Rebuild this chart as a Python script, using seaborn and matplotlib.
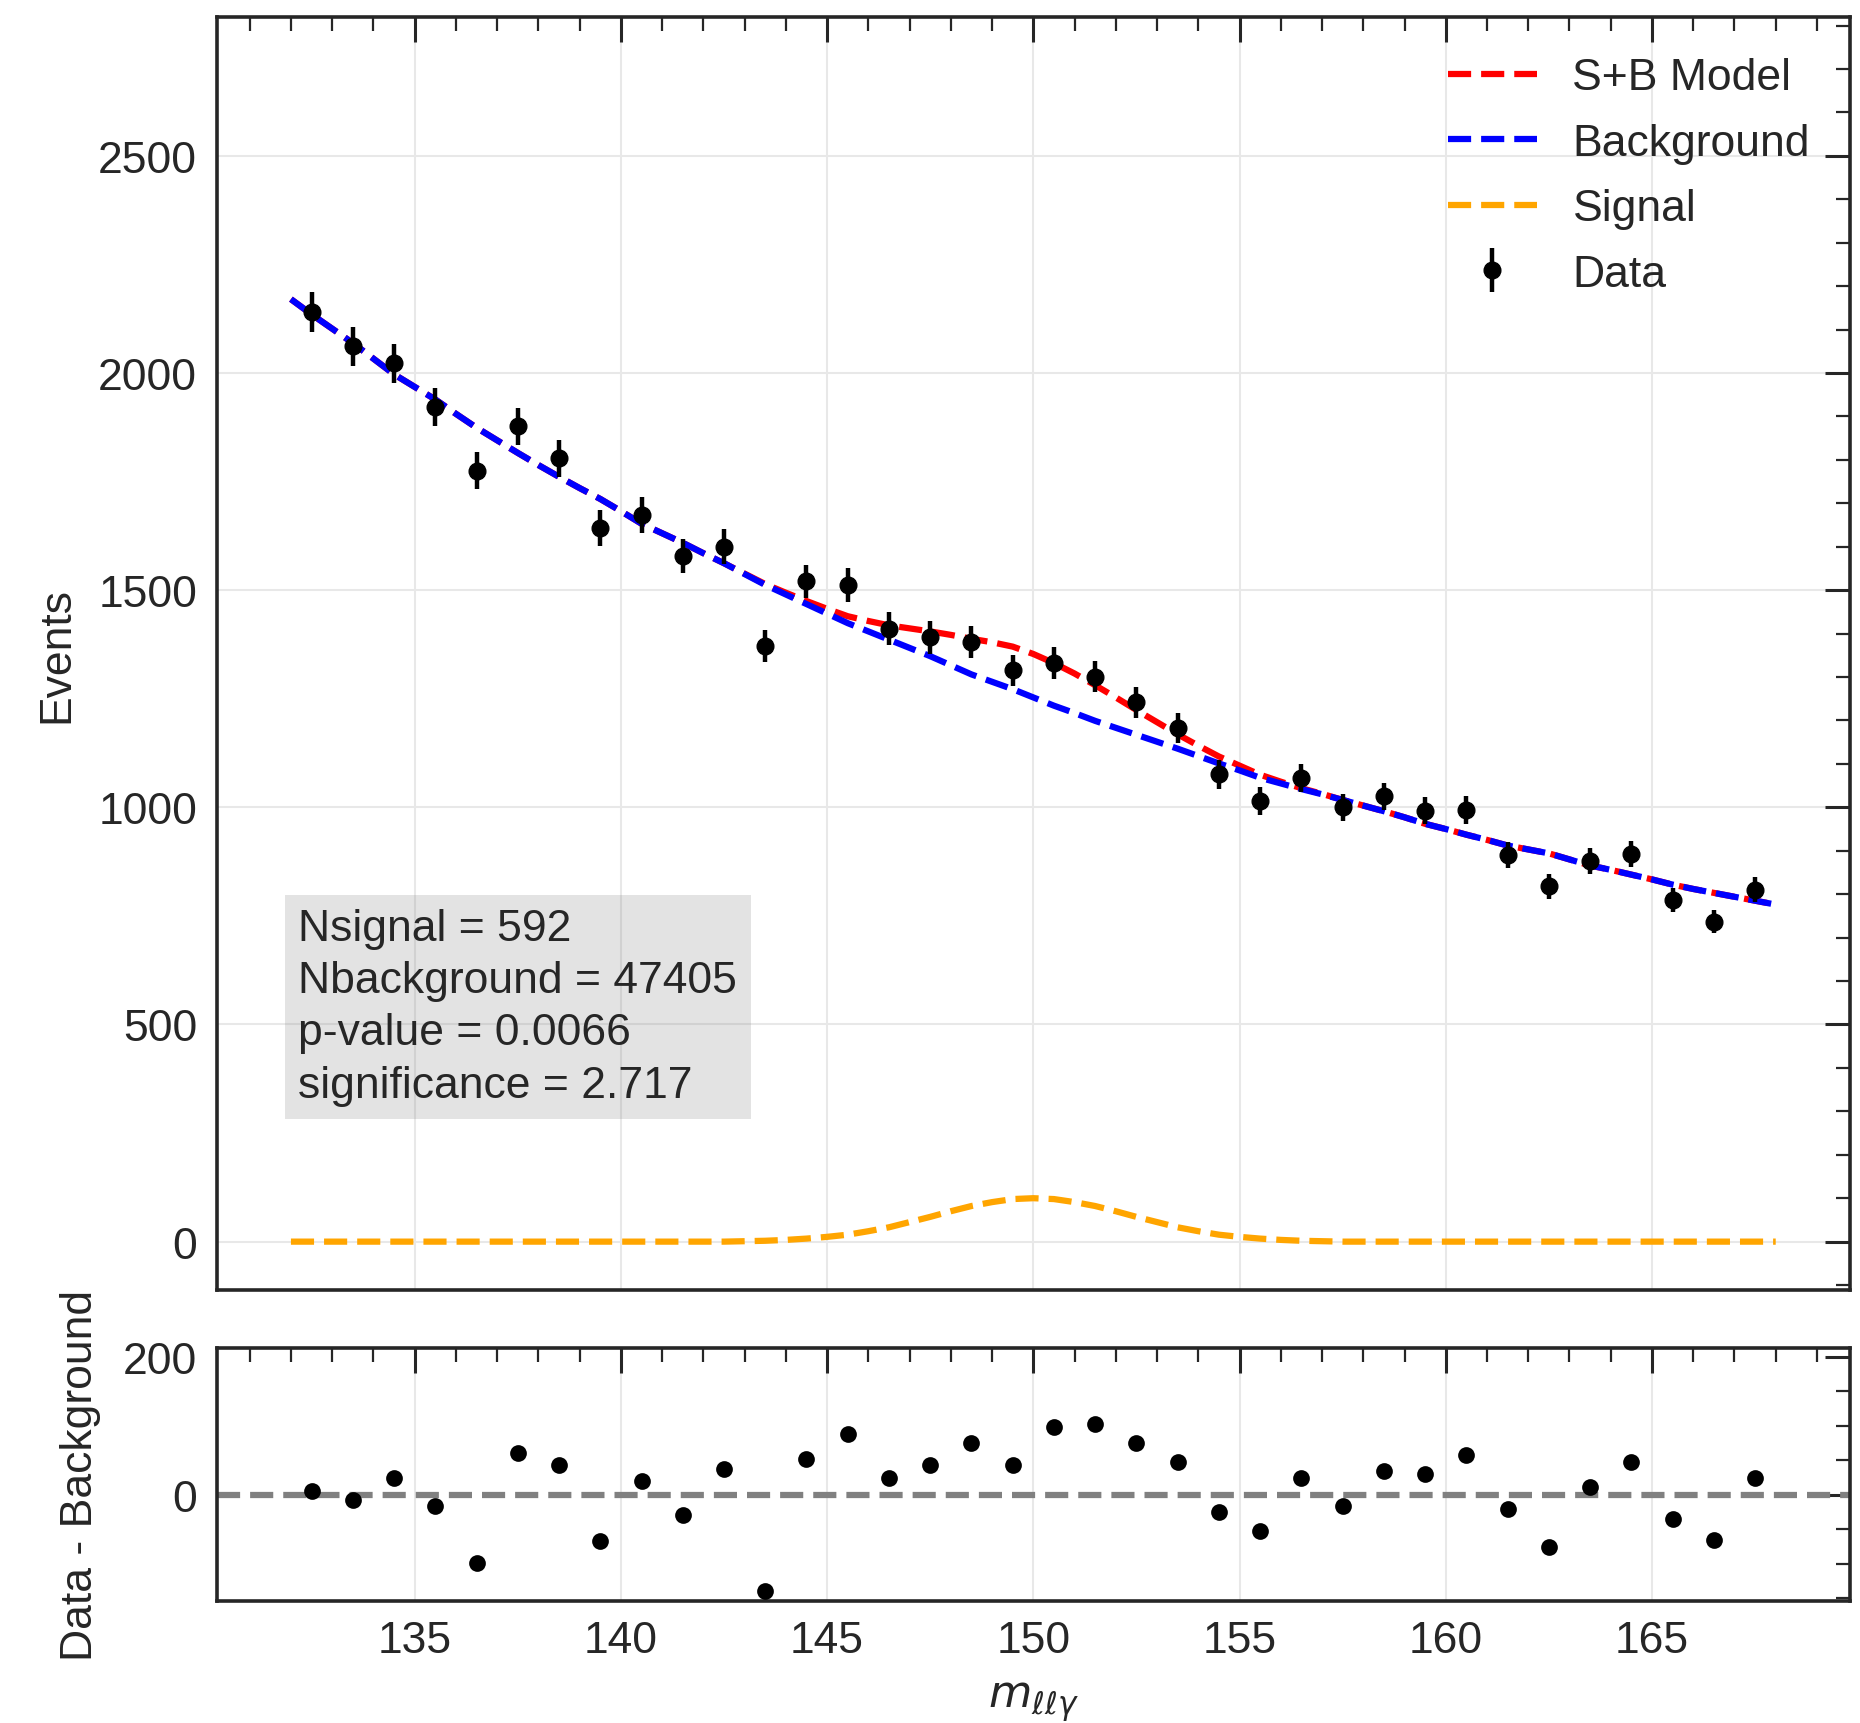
import numpy as np
import matplotlib
matplotlib.use("Agg")
import matplotlib.pyplot as plt
from matplotlib.ticker import MultipleLocator
import seaborn as sns

# Binned invariant-mass data (1 GeV bins)
bin_centers = np.arange(132.5, 168.0, 1.0)
counts = [2141, 2061, 2022, 1922, 1775, 1877, 1804, 1643, 1673, 1579,
          1600, 1372, 1520, 1512, 1411, 1391, 1381, 1315, 1332, 1301,
          1242, 1182, 1076, 1015, 1067, 1000, 1025, 992, 994, 890,
          818, 877, 892, 787, 737, 810]
residuals = [6, -8, 25, -17, -99, 61, 43, -67, 20, -30,
             38, -140, 52, 88, 25, 43, 75, 43, 98, 102,
             75, 47, -25, -53, 25, -17, 34, 30, 57, -21,
             -76, 11, 47, -35, -66, 25]

# Fitted model curves, sampled every 0.5 GeV
model_mass = np.arange(132.0, 168.01, 0.5)
background = [2170, 2135, 2102, 2069, 2033, 1997, 1968, 1939, 1906, 1874,
              1845, 1816, 1788, 1761, 1735, 1710, 1682, 1653, 1631, 1609,
              1585, 1562, 1537, 1512, 1490, 1468, 1446, 1424, 1405, 1386,
              1367, 1348, 1327, 1306, 1289, 1272, 1253, 1234, 1217, 1199,
              1183, 1167, 1151, 1135, 1118, 1101, 1085, 1068, 1055, 1042,
              1030, 1017, 1004, 991, 977, 962, 950, 937, 925, 912,
              903, 894, 880, 866, 856, 845, 834, 822, 812, 803,
              794, 785, 776]
signal = [0, 0, 0, 0, 0, 0, 0, 0, 0, 0, 0,
          0, 0, 0, 0, 0, 0, 0, 0, 0, 0, 0,
          1, 2, 4, 7, 11, 16, 24, 33, 45, 57, 70, 82, 91, 98,
          100,
          98, 91, 82, 70, 57, 45, 33, 24, 16, 11, 7, 4, 2, 1,
          0, 0, 0, 0, 0, 0, 0, 0, 0, 0, 0,
          0, 0, 0, 0, 0, 0, 0, 0, 0, 0, 0]
splusb = np.array(background) + np.array(signal)

fit_summary = ["Nsignal = 592", "Nbackground = 47405",
               "p-value = 0.0066", "significance = 2.717"]

sns.set_theme(style="ticks")
plt.rcParams["font.family"] = ["Liberation Sans", "DejaVu Sans"]
plt.rcParams.update({
    "text.color": ".15",
    "axes.labelcolor": ".15",
    "xtick.color": ".15",
    "ytick.color": ".15",
    "axes.edgecolor": ".15",
    "axes.linewidth": 2.6,
})

FS = 32
LW = 4.5

fig = plt.figure(figsize=(18.6, 17.24), dpi=100)
ax = fig.add_axes([0.1165, 0.2513, 0.8781, 0.7381])
axr = fig.add_axes([0.1165, 0.0709, 0.8781, 0.1466], sharex=ax)

# Model curves
sns.lineplot(x=model_mass, y=splusb, ax=ax, color="red", linestyle="--",
             linewidth=LW, label="S+B Model", zorder=2)
sns.lineplot(x=model_mass, y=background, ax=ax, color="blue", linestyle="--",
             linewidth=LW, label="Background", zorder=2)
sns.lineplot(x=model_mass, y=signal, ax=ax, color="orange", linestyle="--",
             linewidth=LW, label="Signal", zorder=2)

# Data with Poisson errors
ax.errorbar(bin_centers, counts, yerr=np.sqrt(counts), fmt="o", color="black",
            ms=12, elinewidth=3.2, capsize=0, label="Data", zorder=3)

ax.set_xlim(130.2, 169.8)
ax.set_ylim(-110.8, 2819)
ax.grid(True, which="major", color="#e8e8e8", linewidth=1.5)
ax.xaxis.set_major_locator(MultipleLocator(5))
ax.xaxis.set_minor_locator(MultipleLocator(1))
ax.yaxis.set_major_locator(MultipleLocator(500))
ax.yaxis.set_minor_locator(MultipleLocator(100))

handles, labels = ax.get_legend_handles_labels()
lookup = dict(zip(labels, handles))
order = ["S+B Model", "Background", "Signal", "Data"]
ax.legend([lookup[k] for k in order], order, loc="upper right",
          frameon=False, fontsize=FS, labelspacing=0.55)

ax.text(0.05, 0.30, "\n".join(fit_summary), transform=ax.transAxes,
        ha="left", va="top", fontsize=FS, linespacing=1.35,
        bbox=dict(boxstyle="square,pad=0.3", facecolor="gray",
                  alpha=0.22, edgecolor="none"))

ax.set_ylabel("Events", fontsize=FS)
ax.yaxis.set_label_coords(-0.0855, 0.5)

# Residual panel
axr.axhline(0, color="gray", linestyle="--", linewidth=LW, zorder=2)
sns.scatterplot(x=bin_centers, y=residuals, ax=axr, color="black", s=145,
                linewidth=0, zorder=3)
axr.set_ylim(-153.6, 212.6)
axr.grid(True, which="major", axis="x", color="#e8e8e8", linewidth=1.5)
axr.yaxis.set_major_locator(MultipleLocator(200))
axr.yaxis.set_minor_locator(MultipleLocator(50))
axr.set_ylabel("Data - Background", fontsize=FS)
axr.yaxis.set_label_coords(-0.0708, 0.5)
axr.set_xlabel(r"$m_{\ell\ell\gamma}$", fontsize=FS)
axr.xaxis.set_label_coords(0.5, -0.31)

for a, show_x in ((ax, False), (axr, True)):
    a.tick_params(axis="both", which="both", direction="in",
                  top=True, bottom=False, left=False, right=True,
                  labelbottom=show_x, labelleft=True, labeltop=False,
                  labelright=False)
    a.tick_params(which="major", length=18, width=2.2, pad=14, labelsize=FS)
    a.tick_params(which="minor", length=10, width=1.6)
    for s in a.spines.values():
        s.set_linewidth(2.6)
        s.set_color(".15")

fig.savefig("out.png", dpi=100)
